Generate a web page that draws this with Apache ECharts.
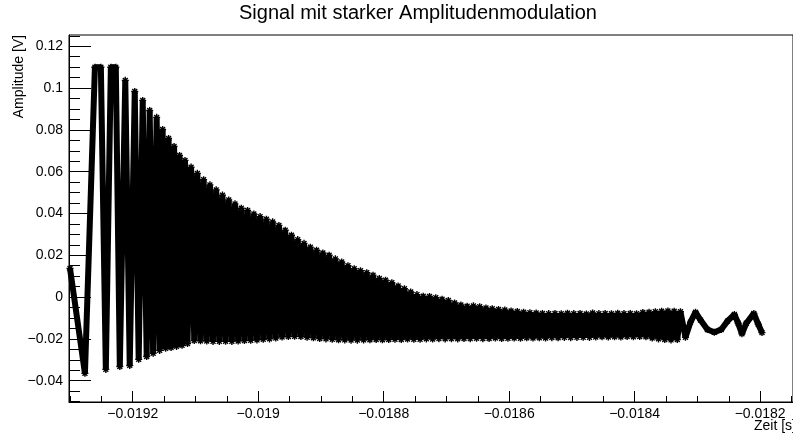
<!DOCTYPE html>
<html>
<head>
<meta charset="utf-8">
<title>Signal mit starker Amplitudenmodulation</title>
<script src="https://cdn.jsdelivr.net/npm/echarts@6/dist/echarts.min.js"></script>
<style>
  html, body { margin: 0; padding: 0; background: #fff; }
  #chart { width: 793px; height: 439px; }
</style>
</head>
<body>
<div id="chart"></div>
<script>
// Sample times in microseconds (oscillation extremes of the recorded trace)
const zeitUs = [
  -19300.0, -19276.2, -19260.3, -19250.8, -19242.9, -19234.9, -19227.0, -19220.6, -19211.9, -19204.8,
  -19196.8, -19190.5, -19184.1, -19177.8, -19173.0, -19167.5, -19161.9, -19157.1, -19152.4, -19147.6,
  -19142.9, -19138.9, -19134.1, -19130.2, -19125.4, -19121.4, -19116.7, -19112.7,
  -19107, -19102, -19097, -19092, -19087, -19082, -19077, -19072, -19067, -19062,
  -19057, -19052, -19047, -19042, -19037, -19032, -19027, -19022, -19017, -19012,
  -19007, -19002, -18997, -18992, -18987, -18982, -18977, -18972, -18967, -18962,
  -18957, -18952, -18947, -18942, -18937, -18932, -18927, -18922, -18917, -18912,
  -18907, -18902, -18897, -18892, -18887, -18882, -18877, -18872, -18867, -18862,
  -18857, -18852, -18847, -18842, -18837, -18832, -18827, -18822, -18817, -18812,
  -18807, -18802, -18797, -18792, -18787, -18782, -18777, -18772, -18767, -18762,
  -18757, -18752, -18747, -18742, -18737, -18732, -18727, -18722, -18717, -18712,
  -18707, -18702, -18697, -18692, -18687, -18682, -18677, -18672, -18667, -18662,
  -18657, -18652, -18647, -18642, -18637, -18632, -18627, -18622, -18617, -18612,
  -18607, -18602, -18597, -18592, -18587, -18582, -18577, -18572, -18567, -18562,
  -18557, -18552, -18547, -18542, -18537, -18532, -18527, -18522, -18517, -18512,
  -18507, -18502, -18497, -18492, -18487, -18482, -18477, -18472, -18467, -18462,
  -18457, -18452, -18447, -18442, -18437, -18432, -18427, -18422, -18417, -18412,
  -18407, -18402, -18397, -18392, -18387, -18382, -18377, -18372, -18367, -18362,
  -18357, -18352, -18347, -18342, -18337, -18332,
  -18327, -18319, -18311, -18303, -18295, -18284, -18273, -18262, -18252, -18241,
  -18235, -18229, -18222, -18210, -18203, -18197
];

// Amplitude in volts at those times
const amplitudeV = [
  0.0137, -0.0365, 0.1100, 0.1100, -0.0346, 0.1100, 0.1100, -0.0332, 0.1037, -0.0327,
  0.0984, -0.0298, 0.0941, -0.0284, 0.0893, -0.0269, 0.0860, -0.0255, 0.0802, -0.0245,
  0.0759, -0.0241, 0.0721, -0.0236, 0.0678, -0.0231, 0.0654, -0.0222,
  0.0622, -0.0208, 0.0592, -0.0209, 0.0562, -0.0210, 0.0537, -0.0212, 0.0513, -0.0212,
  0.0488, -0.0211, 0.0465, -0.0212, 0.0446, -0.0210, 0.0425, -0.0208, 0.0414, -0.0207,
  0.0398, -0.0205, 0.0385, -0.0202, 0.0373, -0.0200, 0.0360, -0.0196, 0.0343, -0.0191,
  0.0320, -0.0189, 0.0296, -0.0188, 0.0275, -0.0189, 0.0257, -0.0192, 0.0239, -0.0195,
  0.0224, -0.0198, 0.0211, -0.0200, 0.0200, -0.0202, 0.0183, -0.0204, 0.0168, -0.0205,
  0.0150, -0.0206, 0.0136, -0.0206, 0.0126, -0.0205, 0.0117, -0.0204, 0.0105, -0.0203,
  0.0089, -0.0204, 0.0081, -0.0203, 0.0069, -0.0202, 0.0053, -0.0203, 0.0040, -0.0201,
  0.0024, -0.0202, 0.0012, -0.0202, 0.0004, -0.0200, 0.0003, -0.0201, -0.0003, -0.0199,
  -0.0010, -0.0200, -0.0016, -0.0199, -0.0028, -0.0200, -0.0038, -0.0198, -0.0044, -0.0199,
  -0.0042, -0.0197, -0.0046, -0.0199, -0.0052, -0.0198, -0.0056, -0.0196, -0.0059, -0.0198,
  -0.0062, -0.0197, -0.0066, -0.0196, -0.0069, -0.0197, -0.0072, -0.0195, -0.0075, -0.0196,
  -0.0076, -0.0195, -0.0078, -0.0196, -0.0079, -0.0194, -0.0078, -0.0195, -0.0080, -0.0193,
  -0.0077, -0.0194, -0.0079, -0.0193, -0.0078, -0.0192, -0.0081, -0.0193, -0.0076, -0.0191,
  -0.0079, -0.0190, -0.0078, -0.0191, -0.0080, -0.0190, -0.0077, -0.0191, -0.0079, -0.0189,
  -0.0078, -0.0190, -0.0080, -0.0189, -0.0074, -0.0190, -0.0072, -0.0196, -0.0070, -0.0200,
  -0.0068, -0.0203, -0.0066, -0.0205, -0.0068, -0.0203,
  -0.0070, -0.0192, -0.0120, -0.0072, -0.0110, -0.0155, -0.0168, -0.0155, -0.0115, -0.0083,
  -0.0125, -0.0176, -0.0125, -0.0078, -0.0130, -0.0170
];

// Axis ranges and labelled ticks
const xRange = [-0.0193016, -0.0181476];
const yRange = [-0.0502, 0.1254];
const xTicks = [-0.0192, -0.019, -0.0188, -0.0186, -0.0184, -0.0182];
const yTicks = [-0.04, -0.02, 0, 0.02, 0.04, 0.06, 0.08, 0.1, 0.12];

const FONT = '"Liberation Sans", Arial, Helvetica, sans-serif';

function minorTicks(lo, hi, step) {
  const out = [];
  const start = Math.ceil(lo / step - 1e-9);
  const end = Math.floor(hi / step + 1e-9);
  for (let k = start; k <= end; k++) out.push(+(k * step).toPrecision(10));
  return out;
}
const xMinor = minorTicks(xRange[0], xRange[1], 0.00005);
const yMinor = minorTicks(yRange[0], yRange[1], 0.005);

function fmt(v) {
  const s = parseFloat(Number(v).toPrecision(6)).toString();
  return s.replace('-', '\u2212');
}

const points = zeitUs.map((t, i) => [t * 1e-6, amplitudeV[i]]);

const asterisk = 'path://M5,0L5,10M0,5L10,5M1.5,1.5L8.5,8.5M1.5,8.5L8.5,1.5';

const chart = echarts.init(document.getElementById('chart'), null, { renderer: 'canvas' });

const lineOn = { show: true, onZero: false, lineStyle: { color: '#000', width: 1 } };
const lineOff = { show: false, onZero: false };

chart.setOption({
  animation: false,
  backgroundColor: '#fff',
  grid: {
    left: 69, right: -3, top: 35, bottom: 37,
    show: true, borderColor: '#000', borderWidth: 1, backgroundColor: 'transparent'
  },
  xAxis: [
    {
      type: 'value', min: xRange[0], max: xRange[1], position: 'bottom',
      splitLine: { show: false }, axisLine: lineOn,
      axisTick: { show: true, inside: true, length: 11, customValues: xTicks, lineStyle: { color: '#000' } },
      axisLabel: {
        show: true, customValues: xTicks, margin: 5, formatter: fmt,
        color: '#000', fontFamily: FONT, fontSize: 14
      }
    },
    {
      type: 'value', min: xRange[0], max: xRange[1], position: 'bottom',
      splitLine: { show: false }, axisLine: lineOff,
      axisTick: { show: true, inside: true, length: 6, customValues: xMinor, lineStyle: { color: '#000' } },
      axisLabel: { show: false }
    }
  ],
  yAxis: [
    {
      type: 'value', min: yRange[0], max: yRange[1], position: 'left',
      splitLine: { show: false }, axisLine: lineOn,
      axisTick: { show: true, inside: true, length: 22, customValues: yTicks, lineStyle: { color: '#000' } },
      axisLabel: {
        show: true, customValues: yTicks, margin: 6, formatter: fmt,
        color: '#000', fontFamily: FONT, fontSize: 14
      }
    },
    {
      type: 'value', min: yRange[0], max: yRange[1], position: 'left',
      splitLine: { show: false }, axisLine: lineOff,
      axisTick: { show: true, inside: true, length: 11, customValues: yMinor, lineStyle: { color: '#000' } },
      axisLabel: { show: false }
    }
  ],
  graphic: [
    {
      type: 'text', x: 418, y: 13,
      style: {
        text: 'Signal mit starker Amplitudenmodulation',
        font: '20px ' + FONT, fill: '#000', align: 'center', verticalAlign: 'middle'
      }
    },
    {
      type: 'text', x: 19, y: 35, rotation: Math.PI / 2,
      style: {
        text: 'Amplitude [V]',
        font: '14px ' + FONT, fill: '#000', align: 'right', verticalAlign: 'middle'
      }
    },
    {
      type: 'text', x: 796, y: 426,
      style: {
        text: 'Zeit [s]',
        font: '14px ' + FONT, fill: '#000', align: 'right', verticalAlign: 'middle'
      }
    }
  ],
  series: [
    {
      type: 'line',
      xAxisIndex: 0, yAxisIndex: 0,
      data: points,
      showSymbol: true,
      symbol: asterisk,
      symbolSize: 7,
      itemStyle: { color: 'transparent', borderColor: '#000', borderWidth: 1.4 },
      lineStyle: { color: '#000', width: 6, join: 'bevel' },
      emphasis: { disabled: true },
      silent: true
    }
  ]
});
</script>
</body>
</html>
